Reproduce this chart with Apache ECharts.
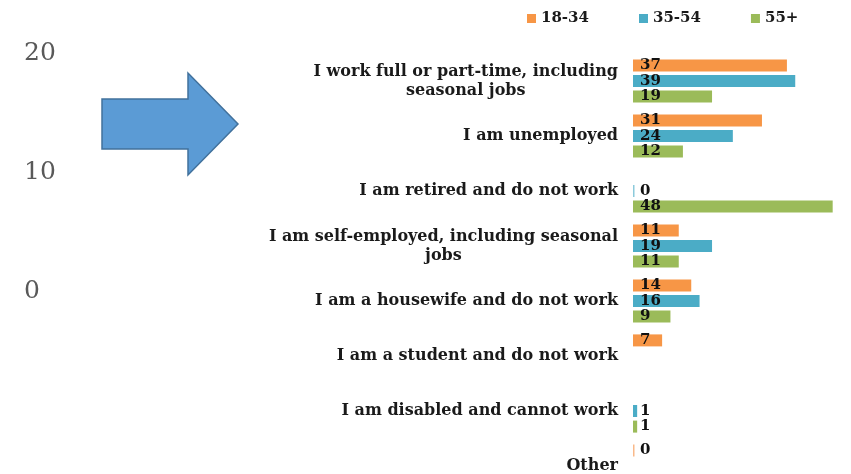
<!DOCTYPE html>
<html>
<head>
<meta charset="utf-8">
<script src="https://cdn.jsdelivr.net/npm/echarts@6/dist/echarts.min.js"></script>
<style>
html,body{margin:0;padding:0;background:#fff;overflow:hidden;}
#chart{width:851px;height:494px;}
</style>
</head>
<body>
<div id="chart"></div>
<script>
const categories = [
  "I work full or part-time, including\nseasonal jobs",
  "I am unemployed",
  "I am retired and do not work",
  "I am self-employed, including seasonal\njobs",
  "I am a housewife and do not work",
  "I am a student and do not work",
  "I am disabled and cannot work",
  "Other"
];
const seriesNames = ["18-34", "35-54", "55+"];
const age18_34 = [37, 31, null, 11, 14, 7, null, 0];
const age35_54 = [39, 24, 0, 19, 16, null, 1, null];
const age55plus = [19, 12, 48, 11, 9, null, 1, null];
const colors = ["#F79646", "#4BACC6", "#9BBB59"];
const zeroColors = ["#F9B98A", "#8CCADB", "#C0D596"];
const leftAxisTicks = [0, 10, 20];

const FONT = "DejaVu Serif";

function toData(arr, i) {
  return arr.map(v => v === 0 ? { value: 0, itemStyle: { color: zeroColors[i] } } : v);
}

const seriesData = [age18_34, age35_54, age55plus];

const chart = echarts.init(document.getElementById('chart'), null, { renderer: 'canvas' });
chart.setOption({
  animation: false,
  backgroundColor: '#ffffff',
  color: colors,
  legend: {
    data: seriesNames,
    left: 527,
    top: 11,
    padding: 0,
    icon: 'rect',
    itemWidth: 9,
    itemHeight: 9,
    itemGap: 50,
    textStyle: { fontFamily: FONT, fontWeight: 'bold', fontSize: 15, color: '#1a1a1a' }
  },
  grid: [
    { left: 633, top: 53.5, width: 208, height: 440 },
    { left: 24, top: 53.5, width: 10, height: 238 }
  ],
  xAxis: [
    { type: 'value', gridIndex: 0, min: 0, max: 50, show: false },
    { type: 'value', gridIndex: 1, show: false }
  ],
  yAxis: [
    {
      type: 'category', gridIndex: 0, data: categories, inverse: true,
      axisLine: { show: false }, axisTick: { show: false }, splitLine: { show: false },
      axisLabel: {
        margin: 15,
        formatter: v => v.split('\n').map(l => '{c|' + l + '}').join('\n'),
        rich: {
          c: { align: 'center', fontFamily: FONT, fontWeight: 'bold', fontSize: 16, color: '#1a1a1a', lineHeight: 19 }
        }
      }
    },
    {
      type: 'value', gridIndex: 1, min: 0, max: 20, interval: 10,
      axisLine: { show: false }, axisTick: { show: false }, splitLine: { show: false },
      axisLabel: {
        show: true, align: 'left', margin: 0,
        fontFamily: FONT, fontSize: 25, color: '#595959',
        customValues: leftAxisTicks
      }
    }
  ],
  graphic: [
    {
      type: 'polygon',
      shape: { points: [[102, 99], [188, 99], [188, 73], [238, 124], [188, 175], [188, 149], [102, 149]] },
      style: { fill: '#5B9BD5', stroke: '#41719C', lineWidth: 1.5 }
    }
  ],
  series: seriesNames.map((name, i) => ({
    name: name,
    type: 'bar',
    xAxisIndex: 0,
    yAxisIndex: 0,
    data: toData(seriesData[i], i),
    barWidth: 12,
    barGap: '30%',
    barMinHeight: 1.5,
    itemStyle: { color: colors[i] },
    label: {
      show: true,
      position: 'insideLeft',
      distance: 7,
      color: '#111',
      fontFamily: FONT,
      fontWeight: 'bold',
      fontSize: 15,
      formatter: p => p.value
    }
  }))
});
</script>
</body>
</html>
